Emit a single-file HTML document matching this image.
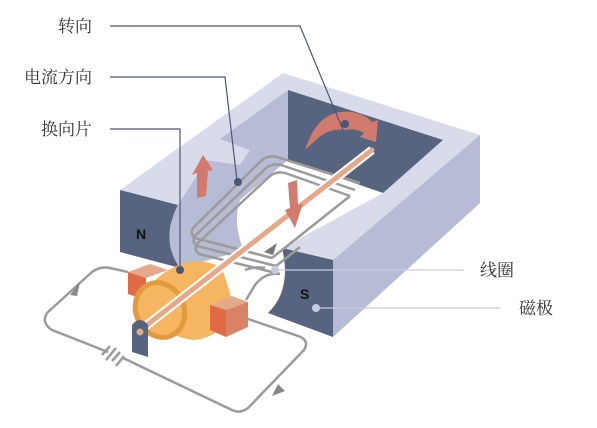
<!DOCTYPE html>
<html><head><meta charset="utf-8"><style>
html,body{margin:0;padding:0;background:#fff;}
svg{display:block;}
text{font-family:"Liberation Serif","Noto Serif CJK SC",serif;font-size:17px;fill:#333;}
</style></head><body>
<svg width="597" height="428" viewBox="0 0 597 428">
<!-- magnet -->
<g>
<polygon points="120,190 283,73 480,135 333,260 282,248 300,225 178,205" fill="#d8dbea"/>
<polygon points="480,135 480,203 333,337 333,260" fill="#b7bcd6"/>
<path d="M120,190 L178,205 Q160,240 180,268 L120,252 Z" fill="#56647f"/>
<path d="M178,205 L220,139 L288,90 L288,160 L240,200 Q235,240 245,250 L180,268 Q160,240 178,205 Z" fill="#b7bcd6"/>
<polygon points="220,139 250,150 240,165 205,160" fill="#d8dbea"/>
<path d="M288,160 L385,192 L300,245 L282,248 Q265,260 270,290 L245,252 Q232,225 240,200 Z" fill="#fff"/>
<polygon points="288,90 443,140 383,193 288,160" fill="#56647f"/>
<polygon points="385,192 443,140 480,135 333,260 282,248" fill="#d8dbea"/>
<path d="M282,248 L333,260 L333,337 L268,313 Q292,290 282,248 Z" fill="#56647f"/>
<text x="136" y="239" style="font-family:'Liberation Sans',sans-serif;font-weight:bold;font-size:14px;fill:#111">N</text>
<text x="300" y="299" style="font-family:'Liberation Sans',sans-serif;font-weight:bold;font-size:14px;fill:#111">S</text>
</g>
<!-- coil -->
<g fill="none" stroke="#9d9a97" stroke-width="2.5" stroke-linejoin="round">
<path d="M272,258 L195,238 Q188,232 195,226 L262,160 Q270,154 280,158 L360,183"/>
<path d="M276,266 L197,246 Q190,240 197,234 L266,168 Q274,162 284,166 L355,190"/>
<path d="M280,274 L199,254 Q192,248 199,242 L270,176 Q278,170 288,174 L350,196"/>
<path d="M272,258 L350,196 M276,266 L300,247"/>
<path d="M280,274 Q265,272 255,285 L246,300"/>
<path d="M265,268 Q255,266 245,270"/>
</g>
<polygon points="264,252 277,243 273,255" fill="#777"/>
<!-- circuit -->
<g fill="none" stroke="#9d9a97" stroke-width="2.5" stroke-linejoin="round">
<path d="M128,272 L110,268 Q100,266 92,272 L48,312 Q40,322 52,330 L108,352"/>
<path d="M123,358 L232,410 Q240,414 248,408 L304,350 Q310,340 298,336 L245,318"/>
<path d="M102,355 L110,346 M106,360 L116,348 M112,361 L120,352 M116,366 L124,356"/>
</g>
<polygon points="70,295 80,282 77,296" fill="#888"/>
<polygon points="278,384 272,396 285,391" fill="#888"/>
<!-- brushes -->
<g>
<polygon points="128,272 150,264 168,270 146,278" fill="#e3a98a"/>
<polygon points="128,272 146,278 146,300 128,294" fill="#e06a44"/>
</g>
<!-- commutator -->
<g>
<path d="M155,280 Q190,250 222,268 L232,300 Q230,335 195,340 Q165,338 150,310 Z" fill="#f5b561"/>
<ellipse cx="160" cy="310" rx="24" ry="28" transform="rotate(-25 160 310)" fill="#f5b561" stroke="#e19a3d" stroke-width="5"/>
</g>
<g>
<polygon points="210,305 232,296 248,302 226,310" fill="#e3a98a"/>
<polygon points="226,310 248,302 248,327 226,337" fill="#da8266"/>
<polygon points="210,305 226,310 226,337 210,330" fill="#e06a44"/>
</g>
<!-- shaft -->
<line x1="138" y1="332" x2="372" y2="150" stroke="#fff" stroke-width="9"/>
<line x1="138" y1="332" x2="372" y2="150" stroke="#e3a98a" stroke-width="5" stroke-linecap="round"/>
<path d="M132,352 L132,325 Q140,315 148,325 L148,357 Z" fill="#56647f"/>
<circle cx="140" cy="332" r="3.5" fill="#e3a98a"/>
<!-- force arrows -->
<polygon points="197,198 197,173 192,175 203,155 213,170 208,171 206,196" fill="#d27a6d"/>
<polygon points="288,183 297,180 298,205 303,203 295,228 285,210 290,208" fill="#d27a6d"/>
<path d="M305,150 Q318,108 352,112 Q366,115 372,122 L378,120 L376,142 L360,137 L364,133 Q355,128 345,130 Q330,128 318,138 Z" fill="#d27a6d"/>
<!-- leader lines -->
<g fill="none" stroke="#4c5873" stroke-width="1.2">
<path d="M110,26 L300,26 L343,130"/>
<path d="M110,77 L225,77 L237,181"/>
<path d="M110,129 L180,129 L180,270"/>
</g>
<g stroke="#c7cbe0" stroke-width="1.2">
<line x1="275" y1="270" x2="464" y2="270"/>
<line x1="316" y1="308" x2="500" y2="308"/>
</g>
<circle cx="345" cy="124" r="4" fill="#4c5873"/>
<circle cx="238" cy="182" r="4" fill="#4c5873"/>
<circle cx="180" cy="270" r="4" fill="#4c5873"/>
<circle cx="275" cy="270" r="4" fill="#c7cbe0"/>
<circle cx="316" cy="308" r="4" fill="#c7cbe0"/>
<text x="58" y="32">转向</text>
<text x="24" y="83">电流方向</text>
<text x="41" y="135">换向片</text>
<text x="480" y="276">线圈</text>
<text x="519" y="314">磁极</text>
</svg>
</body></html>
